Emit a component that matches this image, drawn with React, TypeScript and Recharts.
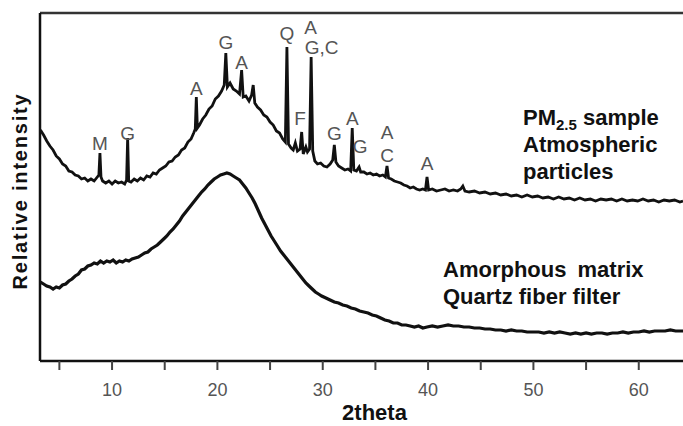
import { LineChart, Line, XAxis, YAxis, Scatter, ReferenceLine, Label } from 'recharts';

// PM2.5 sample pattern (2theta, relative intensity)
const pmTheta = [
  3.2, 3.5, 3.8, 4.1, 4.4, 4.7, 5.0, 5.3, 5.6, 5.9, 6.2, 6.5, 6.8, 7.1, 7.4, 7.7, 8.0, 8.3, 8.6, 8.75,
  8.85, 8.95, 9.1, 9.4, 9.7, 10.0, 10.3, 10.6, 10.9, 11.2, 11.38, 11.48, 11.58, 11.8, 12.1, 12.4, 12.7, 13.0, 13.3, 13.6,
  13.9, 14.2, 14.5, 14.8, 15.1, 15.4, 15.7, 16.0, 16.3, 16.6, 16.9, 17.2, 17.5, 17.75, 17.9, 18.0, 18.1, 18.3, 18.6, 18.9,
  19.2, 19.5, 19.8, 20.1, 20.4, 20.65, 20.8, 20.95, 21.2, 21.5, 21.8, 22.1, 22.3, 22.45, 22.7, 23.0, 23.25, 23.4, 23.55, 23.8,
  24.1, 24.4, 24.7, 25.0, 25.3, 25.6, 25.9, 26.2, 26.45, 26.6, 26.75, 27.0, 27.2, 27.4, 27.6, 27.85, 28.0, 28.15, 28.4, 28.55,
  28.75, 28.9, 29.05, 29.25, 29.5, 29.8, 30.1, 30.4, 30.7, 30.95, 31.1, 31.25, 31.5, 31.8, 32.1, 32.4, 32.65, 32.8, 32.95, 33.2,
  33.45, 33.6, 33.9, 34.2, 34.5, 34.8, 35.1, 35.4, 35.7, 35.95, 36.1, 36.25, 36.5, 36.8, 37.1, 37.4, 37.7, 38.0, 38.3, 38.6,
  38.9, 39.2, 39.5, 39.75, 39.9, 40.05, 40.4, 40.8, 41.2, 41.6, 42.0, 42.4, 42.8, 43.1, 43.3, 43.5, 43.9, 44.4, 44.9, 45.4,
  45.9, 46.4, 46.9, 47.4, 47.9, 48.4, 48.9, 49.4, 49.9, 50.4, 50.9, 51.4, 51.9, 52.4, 52.9, 53.4, 53.9, 54.4, 54.9, 55.4,
  55.9, 56.4, 56.9, 57.4, 57.9, 58.4, 58.9, 59.4, 59.9, 60.4, 60.9, 61.4, 61.9, 62.4, 62.9, 63.4, 63.9, 64.2,
];
const pmIntensity = [
  231, 226, 220, 215, 211, 205, 202, 197, 195, 190, 189, 186, 185, 182, 183, 180, 182, 180, 184, 186,
  208, 184, 180, 178, 180, 177, 180, 178, 179, 177, 181, 223, 180, 179, 182, 180, 183, 181, 185, 184,
  188, 187, 191, 193, 195, 199, 200, 204, 206, 211, 213, 219, 222, 228, 232, 264, 233, 236, 242, 246,
  252, 255, 262, 265, 270, 276, 308, 274, 278, 272, 270, 267, 291, 264, 265, 260, 266, 276, 258, 254,
  251, 246, 244, 239, 236, 230, 228, 222, 219, 314, 217, 213, 211, 218, 210, 212, 229, 207, 214, 209,
  212, 304, 210, 200, 197, 198, 195, 194, 197, 201, 216, 199, 195, 193, 191, 192, 190, 233, 191, 190,
  194, 189, 189, 187, 188, 186, 187, 185, 186, 184, 195, 183, 182, 180, 179, 178, 176, 175, 173, 174,
  172, 171, 172, 171, 184, 171, 172, 170, 171, 172, 170, 171, 170, 172, 175, 170, 169, 170, 168, 169,
  167, 168, 166, 167, 165, 166, 164, 166, 164, 165, 163, 164, 162, 164, 162, 163, 161, 163, 161, 162,
  160, 162, 161, 162, 160, 162, 160, 161, 160, 162, 160, 161, 159, 161, 160, 161, 159, 160,
];

// quartz fiber filter (amorphous matrix)
const filterTheta = [
  3.2, 3.5, 3.8, 4.1, 4.4, 4.7, 5.0, 5.3, 5.6, 5.9, 6.2, 6.5, 6.8, 7.1, 7.4, 7.7, 8.0, 8.3, 8.6, 8.9,
  9.2, 9.5, 9.8, 10.1, 10.4, 10.7, 11.0, 11.3, 11.6, 11.9, 12.2, 12.5, 12.8, 13.1, 13.4, 13.7, 14.0, 14.3, 14.6, 14.9,
  15.2, 15.5, 15.8, 16.1, 16.4, 16.7, 17.0, 17.3, 17.6, 17.9, 18.2, 18.5, 18.8, 19.1, 19.4, 19.7, 20.0, 20.3, 20.6, 20.9,
  21.2, 21.5, 21.8, 22.1, 22.4, 22.7, 23.0, 23.3, 23.6, 23.9, 24.2, 24.5, 24.8, 25.1, 25.4, 25.7, 26.0, 26.3, 26.6, 26.9,
  27.2, 27.5, 27.8, 28.1, 28.4, 28.7, 29.0, 29.3, 29.6, 29.9, 30.3, 30.7, 31.1, 31.5, 31.9, 32.3, 32.7, 33.1, 33.5, 33.9,
  34.3, 34.7, 35.1, 35.5, 35.9, 36.3, 36.7, 37.1, 37.5, 37.9, 38.3, 38.7, 39.1, 39.5, 39.9, 40.4, 40.9, 41.4, 41.9, 42.4,
  42.9, 43.4, 43.9, 44.4, 44.9, 45.4, 45.9, 46.4, 46.9, 47.4, 47.9, 48.4, 48.9, 49.4, 49.9, 50.5, 51.0, 51.5, 52.0, 52.5,
  53.0, 53.5, 54.0, 54.5, 55.0, 55.5, 56.0, 56.5, 57.0, 57.5, 58.0, 58.5, 59.0, 59.5, 60.0, 60.5, 61.0, 61.5, 62.0, 62.5,
  63.0, 63.5, 64.2,
];
const filterIntensity = [
  79, 77, 75, 74, 72, 74, 73, 76, 77, 80, 82, 85, 87, 91, 92, 95, 96, 98, 97, 100,
  98, 100, 99, 101, 98, 100, 99, 101, 100, 102, 103, 104, 106, 108, 109, 112, 114, 116, 119, 122,
  125, 129, 132, 136, 140, 145, 149, 153, 157, 161, 165, 169, 172, 176, 179, 182, 184, 186, 187, 188,
  187, 185, 183, 181, 177, 173, 168, 163, 157, 150, 143, 137, 131, 125, 120, 115, 110, 106, 102, 98,
  94, 90, 86, 82, 78, 75, 72, 69, 67, 65, 63, 61, 59, 58, 56, 55, 53, 52, 50, 49,
  48, 46, 45, 43, 41, 40, 38, 38, 36, 36, 35, 34, 35, 33, 34, 35, 34, 35, 36, 35,
  35, 34, 34, 33, 33, 32, 32, 31, 31, 30, 31, 30, 30, 29, 29, 29, 28, 29, 28, 29,
  28, 27, 28, 27, 28, 27, 28, 28, 27, 28, 28, 29, 28, 29, 29, 30, 29, 30, 30, 30,
  31, 30, 30,
];

// phase labels above the peaks
const peakTheta = [8.85, 11.48, 18.0, 20.8, 22.3, 26.6, 28.85, 29.9, 27.85, 31.1, 32.8, 33.55, 36.1, 36.1, 39.9];
const peakLabelY = [218, 228, 273, 319, 299, 328, 334, 314, 243, 228, 243, 215, 229, 206, 198];
const peakText = ['M', 'G', 'A', 'G', 'A', 'Q', 'A', 'G,C', 'F', 'G', 'A', 'G', 'A', 'C', 'A'];

const xTicks = [5, 10, 15, 20, 25, 30, 35, 40, 45, 50, 55, 60];

const pmData = pmTheta.map((t, i) => ({ theta: t, intensity: pmIntensity[i] }));
const filterData = filterTheta.map((t, i) => ({ theta: t, intensity: filterIntensity[i] }));
const peakData = peakTheta.map((t, i) => ({ theta: t, intensity: peakLabelY[i], text: peakText[i] }));

const FONT = '"Liberation Sans", Arial, sans-serif';

const PeakLabel = (props: any) => (
  <text
    x={props.cx}
    y={props.cy}
    textAnchor="middle"
    dominantBaseline="central"
    fontSize={19}
    fontFamily={FONT}
    fill="#555"
  >
    {props.payload.text}
  </text>
);

export default function App() {
  return (
    <div style={{ position: 'fixed', left: 0, top: 0, width: 683, height: 426, background: '#fff', overflow: 'hidden' }}>
      <LineChart width={683} height={426} data={pmData} margin={{ top: 13, right: 0, bottom: 0, left: 0 }}>
        <XAxis
          dataKey="theta"
          type="number"
          domain={[3.16, 64.2]}
          allowDataOverflow
          ticks={xTicks}
          tickFormatter={(v: number) => (v % 10 === 0 ? String(v) : '')}
          height={65}
          tickSize={9}
          tickMargin={13}
          axisLine={{ stroke: '#111', strokeWidth: 2.5 }}
          tickLine={{ stroke: '#444', strokeWidth: 2 }}
          tick={{ fill: '#555', fontSize: 18, fontFamily: FONT }}
        >
          <Label
            value="2theta"
            position="insideBottom"
            offset={6}
            dx={13}
            style={{ fontSize: 22, fontWeight: 'bold', fontFamily: FONT, fill: '#111' }}
          />
        </XAxis>
        <YAxis
          type="number"
          domain={[0, 348]}
          allowDataOverflow
          width={40}
          tick={false}
          tickLine={false}
          axisLine={{ stroke: '#111', strokeWidth: 2.5 }}
        >
          <Label
            value="Relative intensity"
            angle={-90}
            position="center"
            dx={0}
            dy={4}
            style={{ fontSize: 20, fontWeight: 'bold', fontFamily: FONT, fill: '#111', letterSpacing: 1.8 }}
          />
        </YAxis>
        <ReferenceLine y={348} stroke="#333" strokeWidth={2.5} />
        <Line
          data={filterData}
          dataKey="intensity"
          type="linear"
          stroke="#111"
          strokeWidth={3.2}
          dot={false}
          isAnimationActive={false}
        />
        <Line
          data={pmData}
          dataKey="intensity"
          type="linear"
          stroke="#111"
          strokeWidth={2.8}
          dot={false}
          isAnimationActive={false}
        />
        <Scatter data={peakData} dataKey="intensity" shape={PeakLabel} isAnimationActive={false} />
      </LineChart>
      <div
        style={{
          position: 'absolute', left: 523, top: 104, fontFamily: FONT, fontWeight: 'bold',
          fontSize: 22, lineHeight: '27px', color: '#111', whiteSpace: 'nowrap',
        }}
      >
        <div>PM<sub style={{ fontSize: 15, verticalAlign: '-5px', lineHeight: 0 }}>2.5</sub> sample</div>
        <div>Atmospheric</div>
        <div>particles</div>
      </div>
      <div
        style={{
          position: 'absolute', left: 443, top: 256, fontFamily: FONT, fontWeight: 'bold',
          fontSize: 22, lineHeight: '27px', color: '#111', whiteSpace: 'nowrap',
        }}
      >
        <div style={{ wordSpacing: 5 }}>Amorphous matrix</div>
        <div>Quartz fiber filter</div>
      </div>
    </div>
  );
}
